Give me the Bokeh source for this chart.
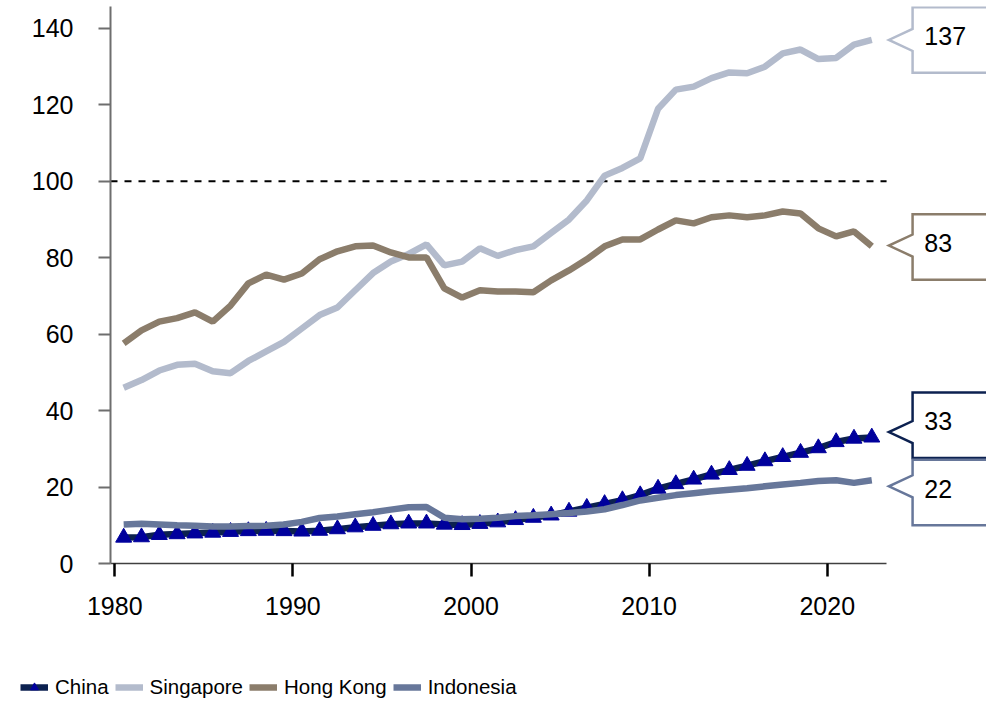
from bokeh.plotting import figure
from bokeh.layouts import column
from bokeh.models import Range1d, FixedTicker, Legend, LegendItem
from bokeh.core.properties import value
from bokeh.embed import file_html
from bokeh.resources import INLINE

# ---------------- data ----------------
years = list(range(1980, 2023))
china = [6.8, 6.9, 7.5, 7.7, 7.9, 8.1, 8.3, 8.5, 8.6, 8.5,
         8.4, 8.6, 9.0, 9.5, 9.9, 10.3, 10.5, 10.5, 10.2, 10.1,
         10.4, 10.8, 11.4, 12.0, 12.6, 13.6, 14.6, 15.6, 16.6, 17.9,
         19.6, 20.8, 22.0, 23.3, 24.5, 25.6, 26.8, 27.9, 29.0, 30.2,
         31.8, 32.7, 33.0]
singapore = [46.0, 48.0, 50.5, 52.0, 52.3, 50.3, 49.8, 53.0, 55.5, 58.0,
             61.5, 65.0, 67.0, 71.5, 76.0, 79.0, 81.0, 83.5, 78.0, 79.0,
             82.5, 80.5, 82.0, 83.0, 86.5, 90.0, 95.0, 101.5, 103.5, 106.0,
             119.0, 124.0, 124.8, 127.0, 128.5, 128.3, 130.0, 133.5, 134.5, 132.0,
             132.3, 135.8, 137.0]
hong_kong = [57.6, 61.0, 63.3, 64.2, 65.7, 63.3, 67.5, 73.3, 75.6, 74.3,
             75.9, 79.6, 81.7, 83.0, 83.2, 81.4, 80.1, 80.1, 72.0, 69.6,
             71.5, 71.2, 71.2, 71.0, 74.1, 76.7, 79.6, 83.0, 84.8, 84.8,
             87.4, 89.8, 89.0, 90.6, 91.1, 90.6, 91.1, 92.1, 91.6, 87.7,
             85.6, 86.9, 83.0]
indonesia = [10.2, 10.4, 10.2, 10.0, 9.9, 9.7, 9.7, 9.8, 9.9, 10.2,
             10.9, 11.9, 12.3, 12.9, 13.4, 14.1, 14.7, 14.8, 12.0, 11.6,
             11.7, 12.0, 12.4, 12.6, 12.9, 13.2, 13.6, 14.2, 15.3, 16.5,
             17.2, 17.9, 18.4, 18.9, 19.3, 19.7, 20.2, 20.7, 21.1, 21.6,
             21.8, 21.1, 21.8]
series_names = ["China", "Singapore", "Hong Kong", "Indonesia"]
x_ticks = [1980, 1990, 2000, 2010, 2020]
y_ticks = [0, 20, 40, 60, 80, 100, 120, 140]
reference_level = 100

# callouts (order: Singapore, Hong Kong, China, Indonesia)
callout_series = ["Singapore", "Hong Kong", "China", "Indonesia"]
callout_tip = [137.0, 83.2, 34.4, 20.2]
callout_center = [137.0, 82.8, 36.2, 18.6]

# ---------------- style ----------------
FONT = "Liberation Sans"
colors = {"China": "#0C2150", "Singapore": "#B3BBCC",
          "Hong Kong": "#8B7D6B", "Indonesia": "#67779A"}
china_marker = "#00009C"

x_start, x_end = 1979.76, 2028.94
axis_end = 2023.33
y_end = 145.757
frame_h = 557
LW = 6.5

p = figure(width=986, height=652, output_backend="svg", toolbar_location=None,
           x_range=Range1d(x_start, x_end), y_range=Range1d(0, y_end),
           min_border_left=110, min_border_right=0, min_border_top=6,
           min_border_bottom=89)
p.frame_align = False
p.outline_line_color = None
p.grid.visible = False
p.background_fill_color = "white"
p.border_fill_color = "white"

xs = [y + 0.5 for y in years]
data = {"China": china, "Singapore": singapore,
        "Hong Kong": hong_kong, "Indonesia": indonesia}

# reference line at 100
p.line([x_start, axis_end], [reference_level, reference_level],
       line_color="black", line_width=2, line_dash="7 7")

p.line(xs, china, line_color=colors["China"], line_width=LW)
p.scatter(xs, china, marker="triangle", size=16,
          fill_color=china_marker, line_color=china_marker)
for name in ["Singapore", "Hong Kong", "Indonesia"]:
    p.line(xs, data[name], line_color=colors[name], line_width=LW)

# axes
p.xaxis.ticker = FixedTicker(ticks=x_ticks)
p.xaxis.bounds = (x_start, axis_end)
p.xaxis.axis_line_color = "#404040"
p.xaxis.axis_line_width = 1.5
p.xaxis.major_tick_line_color = "black"
p.xaxis.major_tick_line_width = 2.5
p.xaxis.major_tick_in = 0
p.xaxis.major_tick_out = 13
p.xaxis.minor_tick_line_color = None
p.xaxis.major_label_standoff = 20
p.xaxis.major_label_text_font = FONT
p.xaxis.major_label_text_font_size = "25px"
p.xaxis.major_label_text_color = "black"

p.yaxis.ticker = FixedTicker(ticks=y_ticks)
p.yaxis.axis_line_color = "#6E6E6E"
p.yaxis.axis_line_width = 2
p.yaxis.major_tick_line_color = "#6E6E6E"
p.yaxis.major_tick_line_width = 2
p.yaxis.major_tick_in = 0
p.yaxis.major_tick_out = 12
p.yaxis.minor_tick_line_color = None
p.yaxis.major_label_standoff = 25
p.yaxis.major_label_text_font = FONT
p.yaxis.major_label_text_font_size = "25px"
p.yaxis.major_label_text_color = "black"

# callouts
px_per_unit = frame_h / y_end
half_h = 32.75 / px_per_unit
notch = 11 / px_per_unit
tip_x = 2023.46
box_left = 2024.79
box_right = 2031.0
text_x = 2025.45
last_vals = {k: v[-1] for k, v in data.items()}
for name, tip, cen in zip(callout_series, callout_tip, callout_center):
    top, bot = cen + half_h, cen - half_h
    px = [box_left, box_right, box_right, box_left, box_left, tip_x, box_left, box_left]
    py = [top, top, bot, bot, tip - notch, tip, tip + notch, top]
    p.patch(px, py, fill_color="white", line_color=colors[name], line_width=2.5,
            line_join="miter")
    p.text([text_x], [cen + 1.0], text=[f"{last_vals[name]:.0f}"],
           text_font=value(FONT), text_font_size="25px", text_color="black",
           text_baseline="middle", text_align="left")

# ---------------- legend strip ----------------
# (series renderers drawn outside this strip's visible range; only their legend swatches show)
leg = figure(width=986, height=50, output_backend="svg", toolbar_location=None,
             x_range=Range1d(0, 1), y_range=Range1d(-10, -9),
             x_axis_type=None, y_axis_type=None, min_border=0)
leg.frame_align = False
leg.outline_line_color = None
leg.grid.visible = False
renderers = {}
lc = leg.line(xs, china, line_color=colors["China"], line_width=LW)
lm = leg.scatter(xs, china, marker="triangle", size=14,
                 fill_color=china_marker, line_color=china_marker)
renderers["China"] = [lc, lm]
for name in ["Singapore", "Hong Kong", "Indonesia"]:
    renderers[name] = [leg.line(xs, data[name], line_color=colors[name], line_width=LW)]

legend = Legend(items=[LegendItem(label=n, renderers=renderers[n]) for n in series_names],
                orientation="horizontal", location=(20, 3),
                glyph_width=28, glyph_height=20, label_height=20,
                label_standoff=7, spacing=6, padding=0, margin=0,
                label_text_font=FONT, label_text_font_size="20.5px",
                label_text_color="black", border_line_color=None,
                background_fill_alpha=0)
leg.add_layout(legend, "center")

layout = column(p, leg, spacing=0)
open("out.html", "w").write(file_html(layout, INLINE))
